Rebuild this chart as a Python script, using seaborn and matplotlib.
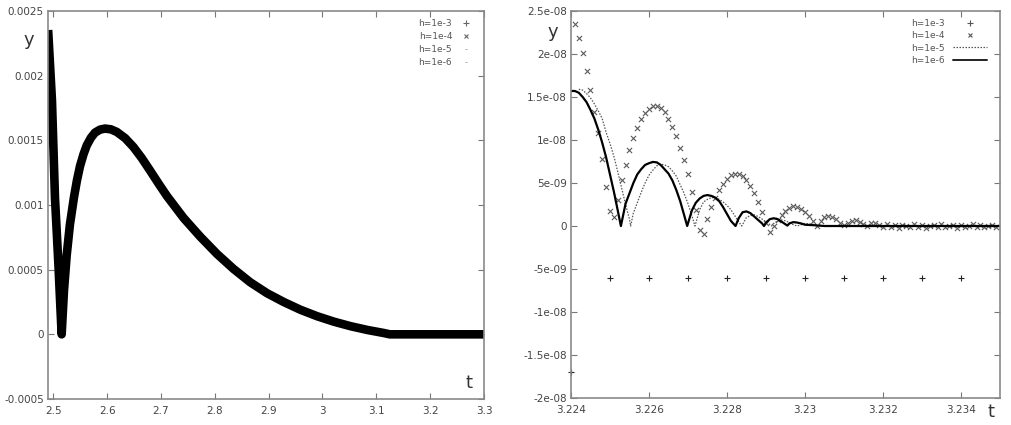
import numpy as np
import matplotlib
matplotlib.use("Agg")
import matplotlib.pyplot as plt
import seaborn as sns
from matplotlib.lines import Line2D
from matplotlib.ticker import FixedLocator, FixedFormatter

# ---------------- data: left panel (all four step sizes overlap) ----------------
left_t = [2.4905, 2.4976, 2.5032, 2.5097, 2.5156, 2.5199, 2.5249, 2.5310, 2.5385, 2.5440,
          2.5497, 2.5560, 2.5621, 2.5700, 2.5776, 2.5870, 2.5962, 2.6070, 2.6180, 2.6335,
          2.6490, 2.6645, 2.6800, 2.6955, 2.7110, 2.7420, 2.7730, 2.8040, 2.8350, 2.8660,
          2.8970, 2.9280, 2.9590, 2.9900, 3.0210, 3.0520, 3.0830, 3.1140, 3.1250, 3.2000,
          3.3000]
left_y = [2.353, 1.810, 1.058, 0.531, 0.000, 0.337, 0.609, 0.850, 1.060, 1.190,
          1.300, 1.390, 1.460, 1.520, 1.560, 1.583, 1.591, 1.585, 1.565, 1.517,
          1.448, 1.362, 1.265, 1.166, 1.070, 0.900, 0.755, 0.622, 0.505, 0.402,
          0.318, 0.250, 0.190, 0.140, 0.098, 0.063, 0.034, 0.010, 0.000, 0.000,
          0.000]  # units of 1e-3

# ---------------- data: right panel (zoom near t = 3.224 .. 3.235) ----------------
# h = 1e-3  (+ markers), y in units of 1e-9
h3_t = [3.224, 3.225, 3.226, 3.227, 3.228, 3.229, 3.230, 3.231, 3.232, 3.233, 3.234]
h3_y = [-17.0, -6.1, -6.1, -6.1, -6.1, -6.1, -6.1, -6.1, -6.1, -6.1, -6.1]

# h = 1e-4  (x markers)
h4_t = [3.2241, 3.2242, 3.2243, 3.2244, 3.2245, 3.2246, 3.2247, 3.2248, 3.2249, 3.2250,
        3.2251, 3.2252, 3.2253, 3.2254, 3.2255, 3.2256, 3.2257, 3.2258, 3.2259, 3.2260,
        3.2261, 3.2262, 3.2263, 3.2264, 3.2265, 3.2266, 3.2267, 3.2268, 3.2269, 3.2270,
        3.2271, 3.2272, 3.2273, 3.2274, 3.2275, 3.2276, 3.2277, 3.2278, 3.2279, 3.2280,
        3.2281, 3.2282, 3.2283, 3.2284, 3.2285, 3.2286, 3.2287, 3.2288, 3.2289, 3.2290,
        3.2291, 3.2292, 3.2293, 3.2294, 3.2295, 3.2296, 3.2297, 3.2298, 3.2299, 3.2300,
        3.2301, 3.2302, 3.2303, 3.2304, 3.2305, 3.2306, 3.2307, 3.2308, 3.2309, 3.2310,
        3.2311, 3.2312, 3.2313, 3.2314, 3.2315, 3.2316, 3.2317, 3.2318, 3.2319, 3.2320,
        3.2321, 3.2322, 3.2323, 3.2324, 3.2325, 3.2326, 3.2327, 3.2328, 3.2329, 3.2330,
        3.2331, 3.2332, 3.2333, 3.2334, 3.2335, 3.2336, 3.2337, 3.2338, 3.2339, 3.2340,
        3.2341, 3.2342, 3.2343, 3.2344, 3.2345, 3.2346, 3.2347, 3.2348, 3.2349]
h4_y = [23.5, 21.9, 20.1, 18.0, 15.8, 13.3, 10.8, 7.8, 4.5, 1.7,
        1.0, 3.0, 5.3, 7.1, 8.8, 10.2, 11.4, 12.4, 13.1, 13.6,
        13.9, 13.9, 13.7, 13.3, 12.5, 11.5, 10.5, 9.1, 7.7, 6.0,
        4.0, 1.9, -0.5, -0.9, 0.8, 2.2, 3.2, 4.2, 4.9, 5.5,
        5.9, 6.1, 6.1, 5.8, 5.3, 4.6, 3.8, 2.8, 1.6, 0.3,
        -0.7, 0.0, 0.7, 1.3, 1.8, 2.1, 2.3, 2.2, 2.0, 1.6,
        1.2, 0.6, 0.0, 0.6, 1.0, 1.2, 1.1, 0.8, 0.4, 0.1,
        0.4, 0.6, 0.7, 0.5, 0.2, 0.0, 0.3, 0.3, 0.1, -0.1,
        0.2, -0.1, 0.1, -0.2, 0.1, 0.0, -0.1, 0.2, -0.1, 0.1,
        -0.2, 0.0, 0.1, -0.1, 0.2, -0.1, 0.0, 0.1, -0.2, 0.1,
        -0.1, 0.0, 0.2, -0.1, 0.1, -0.1, 0.0, 0.1, -0.1]

# h = 1e-5  (dotted line)
h5_t = [3.2242, 3.2243, 3.2244, 3.2245, 3.2246, 3.2247, 3.2248, 3.2249, 3.2250, 3.2251,
        3.2252, 3.2253, 3.2254, 3.2255, 3.22553, 3.2256, 3.2257, 3.2258, 3.2259, 3.2260,
        3.2261, 3.2262, 3.2263, 3.2264, 3.2265, 3.2266, 3.2267, 3.2268, 3.2269, 3.2270,
        3.2271, 3.22718, 3.2273, 3.2274, 3.2275, 3.2276, 3.2277, 3.2278, 3.2279, 3.2280,
        3.2281, 3.2282, 3.2283, 3.22838, 3.2285, 3.2286, 3.2287, 3.2288, 3.2289, 3.2290,
        3.22915, 3.2292, 3.2293, 3.2294, 3.2295, 3.2296, 3.2297, 3.2298, 3.2300, 3.2302,
        3.2304, 3.2306, 3.2350]
h5_y = [15.9, 15.8, 15.4, 14.9, 14.2, 13.4, 12.5, 10.9, 9.6, 8.1,
        6.3, 4.4, 2.5, 0.8, 0.0, 1.5, 2.7, 3.9, 5.0, 5.9,
        6.5, 7.0, 7.2, 7.1, 6.9, 6.4, 5.8, 4.8, 3.8, 2.6,
        1.2, 0.0, 1.9, 2.8, 3.1, 3.3, 3.3, 3.1, 2.8, 2.4,
        1.9, 1.2, 0.5, 0.0, 1.0, 1.2, 1.3, 1.1, 0.8, 0.5,
        0.0, 0.3, 0.6, 0.7, 0.6, 0.4, 0.15, 0.0, 0.3, 0.2,
        0.05, 0.0, 0.0]

# h = 1e-6  (solid line)
h6_t = [3.2240, 3.2241, 3.2242, 3.2243, 3.2244, 3.2245, 3.2246, 3.2247, 3.2248, 3.2249,
        3.2250, 3.2251, 3.2252, 3.22528, 3.2254, 3.2255, 3.2256, 3.2257, 3.2258, 3.2259,
        3.2260, 3.2261, 3.2262, 3.2263, 3.2264, 3.2265, 3.2266, 3.2267, 3.2268, 3.2269,
        3.22698, 3.2271, 3.2272, 3.2273, 3.2274, 3.2275, 3.2276, 3.2277, 3.2278, 3.2279,
        3.2280, 3.2281, 3.22822, 3.2283, 3.2284, 3.2285, 3.2286, 3.2287, 3.2288, 3.2289,
        3.22895, 3.2290, 3.2291, 3.2292, 3.2293, 3.2294, 3.2295, 3.22955, 3.2296, 3.2297,
        3.2298, 3.2299, 3.2300, 3.2302, 3.2305, 3.2350]
h6_y = [15.7, 15.7, 15.5, 15.0, 14.4, 13.5, 12.5, 11.2, 9.7, 8.0,
        6.0, 4.0, 1.8, 0.0, 2.6, 3.8, 5.0, 6.0, 6.6, 7.1,
        7.3, 7.45, 7.4, 7.1, 6.6, 6.1, 5.3, 4.2, 2.9, 1.3,
        0.0, 1.8, 2.7, 3.2, 3.5, 3.6, 3.5, 3.3, 2.9, 2.2,
        1.4, 0.6, 0.0, 0.9, 1.6, 1.7, 1.5, 1.1, 0.7, 0.3,
        0.0, 0.4, 0.8, 0.9, 0.8, 0.5, 0.2, 0.05, 0.3, 0.45,
        0.4, 0.3, 0.15, 0.1, 0.0, 0.0]

legend_labels = ["h=1e-3", "h=1e-4", "h=1e-5", "h=1e-6"]

left_xticks = [2.5, 2.6, 2.7, 2.8, 2.9, 3.0, 3.1, 3.2, 3.3]
left_xlabels = ["2.5", "2.6", "2.7", "2.8", "2.9", "3", "3.1", "3.2", "3.3"]
left_yticks = [-0.0005, 0.0, 0.0005, 0.001, 0.0015, 0.002, 0.0025]
left_ylabels = ["-0.0005", "0", "0.0005", "0.001", "0.0015", "0.002", "0.0025"]

right_xticks = [3.224, 3.226, 3.228, 3.230, 3.232, 3.234]
right_xlabels = ["3.224", "3.226", "3.228", "3.23", "3.232", "3.234"]
right_yticks = [-2e-8, -1.5e-8, -1e-8, -5e-9, 0.0, 5e-9, 1e-8, 1.5e-8, 2e-8, 2.5e-8]
right_ylabels = ["-2e-08", "-1.5e-08", "-1e-08", "-5e-09", "0", "5e-09", "1e-08",
                 "1.5e-08", "2e-08", "2.5e-08"]

# ---------------- drawing ----------------
sns.set_style("ticks")
plt.rcParams["font.family"] = ["DejaVu Sans"]

fig = plt.figure(figsize=(10.12, 4.25), dpi=100)
axL = fig.add_axes([0.0474, 0.0612, 0.4309, 0.9129])
axR = fig.add_axes([0.5642, 0.0635, 0.4239, 0.9106])

lt = np.array(left_t)
ly = np.array(left_y) * 1e-3
sns.lineplot(x=lt, y=ly, ax=axL, color="black", lw=6.2, estimator=None, sort=False,
             legend=False, solid_capstyle="butt", solid_joinstyle="round")

sc = 1e-9
sns.lineplot(x=np.array(h5_t), y=np.array(h5_y) * sc, ax=axR, color="#555555", lw=0.9,
             linestyle=(0, (1.2, 1.2)), estimator=None, sort=False, legend=False)
sns.lineplot(x=np.array(h6_t), y=np.array(h6_y) * sc, ax=axR, color="black", lw=1.6,
             estimator=None, sort=False, legend=False)
sns.scatterplot(x=np.array(h4_t), y=np.array(h4_y) * sc, ax=axR, marker="x", s=14,
                color="#5a5a5a", linewidth=0.8, legend=False)
sns.scatterplot(x=np.array(h3_t), y=np.array(h3_y) * sc, ax=axR, marker="+", s=22,
                color="#222222", linewidth=0.8, legend=False, clip_on=False)

spine_col = "#8a8a8a"
for ax, xl, yl, xt, xlab, yt, ylab in [
    (axL, (2.4902, 3.3), (-0.0005, 0.0025), left_xticks, left_xlabels, left_yticks, left_ylabels),
    (axR, (3.224, 3.235), (-2e-8, 2.5e-8), right_xticks, right_xlabels, right_yticks, right_ylabels),
]:
    ax.set_xlim(*xl)
    ax.set_ylim(*yl)
    ax.xaxis.set_major_locator(FixedLocator(xt))
    ax.xaxis.set_major_formatter(FixedFormatter(xlab))
    ax.yaxis.set_major_locator(FixedLocator(yt))
    ax.yaxis.set_major_formatter(FixedFormatter(ylab))
    ax.tick_params(direction="in", top=True, right=True, length=4, width=0.8,
                   color="#777777", labelsize=7.5, labelcolor="#444444")
    ax.tick_params(axis="x", pad=5)
    ax.tick_params(axis="y", pad=3)
    for s in ax.spines.values():
        s.set_visible(True)
        s.set_color(spine_col)
        s.set_linewidth(1.2)
    ax.set_xlabel("")
    ax.set_ylabel("")
    ax.set_facecolor("white")

axL.text(-0.045, 0.925, "y", transform=axL.transAxes, fontsize=13, color="#333333",
         ha="center", va="center")
axL.text(0.966, 0.04, "t", transform=axL.transAxes, fontsize=13, color="#333333",
         ha="center", va="center")
axR.text(-0.043, 0.945, "y", transform=axR.transAxes, fontsize=13, color="#333333",
         ha="center", va="center")
axR.text(0.978, -0.035, "t", transform=axR.transAxes, fontsize=13, color="#333333",
         ha="center", va="center")

# legends
hL = [Line2D([], [], ls="none", marker="+", ms=4.5, mew=0.8, color="#666666"),
      Line2D([], [], ls="none", marker="x", ms=3.5, mew=0.8, color="#666666"),
      Line2D([], [], ls="none", marker="_", ms=2.0, mew=0.6, color="#999999"),
      Line2D([], [], ls="none", marker="_", ms=2.0, mew=0.6, color="#999999")]
legL = axL.legend(hL, legend_labels, loc="upper right", bbox_to_anchor=(0.985, 0.995),
                  frameon=False, markerfirst=False, fontsize=6.5, handlelength=1.2,
                  handletextpad=0.9, labelspacing=0.45, borderaxespad=0.3)
for t in legL.get_texts():
    t.set_color("#555555")

hR = [Line2D([], [], ls="none", marker="+", ms=4.5, mew=0.8, color="#555555"),
      Line2D([], [], ls="none", marker="x", ms=3.5, mew=0.8, color="#555555"),
      Line2D([], [], color="#555555", lw=0.9, linestyle=(0, (1.2, 1.2))),
      Line2D([], [], color="#222222", lw=1.4)]
legR = axR.legend(hR, legend_labels, loc="upper right", bbox_to_anchor=(0.985, 0.995),
                  frameon=False, markerfirst=False, fontsize=6.5, handlelength=3.8,
                  handletextpad=0.9, labelspacing=0.35, borderaxespad=0.3)
for t in legR.get_texts():
    t.set_color("#555555")

fig.savefig("out.png", dpi=100, facecolor="white")
